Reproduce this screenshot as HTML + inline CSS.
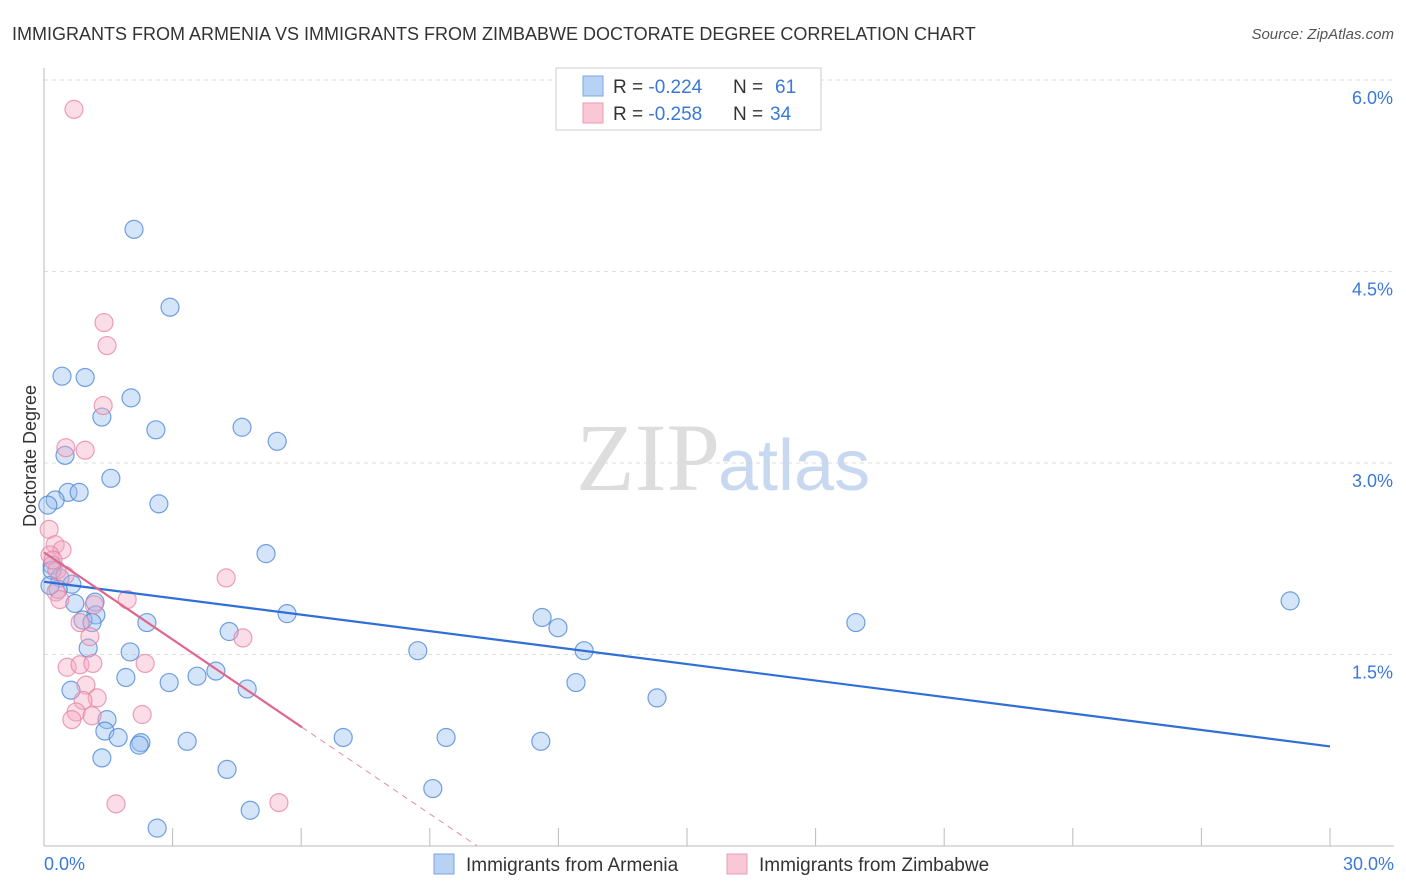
<!DOCTYPE html>
<html><head><meta charset="utf-8"><style>
body{margin:0;background:#fff;font-family:"Liberation Sans",sans-serif;}
svg{display:block}
</style></head><body>
<svg id="chart" width="1406" height="892" xmlns="http://www.w3.org/2000/svg">
<text x="12" y="40" font-size="18" fill="#333">IMMIGRANTS FROM ARMENIA VS IMMIGRANTS FROM ZIMBABWE DOCTORATE DEGREE CORRELATION CHART</text>
<text x="1394" y="39" font-size="15" fill="#555" font-style="italic" text-anchor="end">Source: ZipAtlas.com</text>
<g id="grid"></g>
<g id="axes"></g>
<text x="720" y="490" font-size="96" fill="#ddd" text-anchor="end" font-family="Liberation Serif,serif">ZIP</text>
<text x="718" y="490" font-size="72" fill="#c8d8f0">atlas</text>
<g id="pts"></g>
<g id="lines"></g>
<text x="36" y="456" font-size="18" fill="#333" text-anchor="middle" transform="rotate(-90 36 456)">Doctorate Degree</text>
<text x="44" y="870" font-size="18" fill="#3b78d8">0.0%</text>
<text x="1394" y="870" font-size="18" fill="#3b78d8" text-anchor="end">30.0%</text>
<g>
<rect x="556" y="68" width="265" height="62" fill="#fff" stroke="#ccc"/>
<rect x="583" y="76" width="20" height="20" fill="#b8d2f4" stroke="#7aa6e3"/>
<rect x="583" y="103" width="20" height="20" fill="#f9c8d6" stroke="#ee9ab2"/>
<text x="613" y="93" font-size="19" fill="#333">R = <tspan fill="#3b78d8">-0.224</tspan><tspan x="733">N = </tspan><tspan x="775" fill="#3b78d8">61</tspan></text>
<text x="613" y="120" font-size="19" fill="#333">R = <tspan fill="#3b78d8">-0.258</tspan><tspan x="733">N = </tspan><tspan x="770" fill="#3b78d8">34</tspan></text>
</g>
<g>
<rect x="434" y="854" width="20" height="20" fill="#b8d2f4" stroke="#7aa6e3"/>
<text x="466" y="871" font-size="19" fill="#333">Immigrants from Armenia</text>
<rect x="727" y="854" width="20" height="20" fill="#f9c8d6" stroke="#ee9ab2"/>
<text x="759" y="871" font-size="19" fill="#333">Immigrants from Zimbabwe</text>
</g>
</svg>
<script>
const armeniaX=[2.10,2.94,0.42,0.96,2.03,1.35,2.61,4.62,5.44,0.49,1.56,0.56,0.82,0.26,0.09,2.68,5.18,0.19,0.37,0.65,0.33,0.72,1.19,1.21,0.91,1.12,2.40,5.67,4.32,1.03,2.01,11.62,11.99,12.60,8.72,18.94,29.07,4.01,3.57,1.91,2.92,0.63,4.74,12.41,14.30,1.47,1.42,1.73,2.26,2.22,3.34,6.98,9.38,11.59,1.35,4.27,9.07,4.81,2.64,0.19,0.14];
const armeniaY=[4.83,4.22,3.68,3.67,3.51,3.36,3.26,3.28,3.17,3.06,2.88,2.77,2.77,2.71,2.67,2.68,2.29,2.20,2.10,2.05,2.01,1.90,1.91,1.81,1.77,1.75,1.75,1.82,1.68,1.55,1.52,1.79,1.71,1.53,1.53,1.75,1.92,1.37,1.33,1.32,1.28,1.22,1.23,1.28,1.16,0.99,0.90,0.85,0.81,0.79,0.82,0.85,0.85,0.82,0.69,0.60,0.45,0.28,0.14,2.16,2.04];
const zimX=[0.70,1.40,1.47,1.38,0.51,0.96,0.12,0.26,0.42,0.14,0.30,0.49,4.25,0.28,1.94,1.17,0.84,1.07,4.64,2.36,0.54,0.84,1.14,0.98,1.24,0.91,0.75,1.12,2.29,0.65,1.68,5.48,0.37,0.21];
const zimY=[5.77,4.10,3.92,3.45,3.12,3.10,2.48,2.36,2.32,2.28,2.16,2.12,2.10,1.99,1.93,1.89,1.75,1.64,1.63,1.43,1.40,1.42,1.43,1.26,1.16,1.14,1.05,1.02,1.03,0.99,0.33,0.34,1.93,2.24];
const armeniaTrend=[2.07,0.78]; // y at x=0, x=30
const zimTrend=[2.30,-0.2276]; // intercept, slope
const yTicks=[1.5,3.0,4.5,6.0];
const yTickLabels=["1.5%","3.0%","4.5%","6.0%"];
const xTicks=[0,3,6,9,12,15,18,21,24,27,30];
const NS="http://www.w3.org/2000/svg";
const X0=44,X1=1330,YB=846,PPU=191.5/1.5;
const sx=v=>X0+(v/30)*(X1-X0);
const sy=v=>YB-v*PPU;
function mk(tag,attrs,parent){const e=document.createElementNS(NS,tag);for(const k in attrs)e.setAttribute(k,attrs[k]);parent.appendChild(e);return e;}
const grid=document.getElementById('grid'),axes=document.getElementById('axes'),pts=document.getElementById('pts'),lines=document.getElementById('lines');
yTicks.forEach((t,i)=>{
 const l=mk('line',{x1:X0,x2:1394,y1:sy(t),y2:sy(t),stroke:'#ddd','stroke-dasharray':'4,4'},grid);
 
 
 const tx=mk('text',{x:1393,y:sy(t)+24,'font-size':18,fill:'#3b78d8','text-anchor':'end'},grid);
 tx.textContent=yTickLabels[i];
 
 
});
const ya=mk('line',{x1:X0,x2:X0,y1:68,y2:846,stroke:'#bbb'},axes);


const xa=mk('line',{x1:X0,x2:1394,y1:846,y2:846,stroke:'#bbb'},axes);


xTicks.forEach(t=>{
 const l=mk('line',{x1:sx(t),x2:sx(t),y1:828,y2:846,stroke:'#bbb'},axes);
 
 
});
armeniaX.forEach((x,i)=>{
 const c=mk('circle',{cx:sx(x),cy:sy(armeniaY[i]),r:9,fill:'rgba(150,190,240,0.4)',stroke:'rgba(70,130,215,0.75)','stroke-width':1.2},pts);
 
 
});
zimX.forEach((x,i)=>{
 const c=mk('circle',{cx:sx(x),cy:sy(zimY[i]),r:9,fill:'rgba(245,170,195,0.4)',stroke:'rgba(230,130,160,0.75)','stroke-width':1.2},pts);
 
 
});
const bl=mk('line',{x1:sx(0),y1:sy(armeniaTrend[0]),x2:sx(30),y2:sy(armeniaTrend[1]),stroke:'#2f6fd6','stroke-width':2.2},lines);


const zf=x=>zimTrend[0]+zimTrend[1]*x;
const pl=mk('line',{x1:sx(0),y1:sy(zf(0)),x2:sx(6.02),y2:sy(zf(6.02)),stroke:'#e0668c','stroke-width':2.2},lines);


const xe=-zimTrend[0]/zimTrend[1];
const pd=mk('line',{x1:sx(6.02),y1:sy(zf(6.02)),x2:sx(xe),y2:sy(0),stroke:'#e88aa6','stroke-width':1,'stroke-dasharray':'6,5'},lines);


</script>
</body></html>
